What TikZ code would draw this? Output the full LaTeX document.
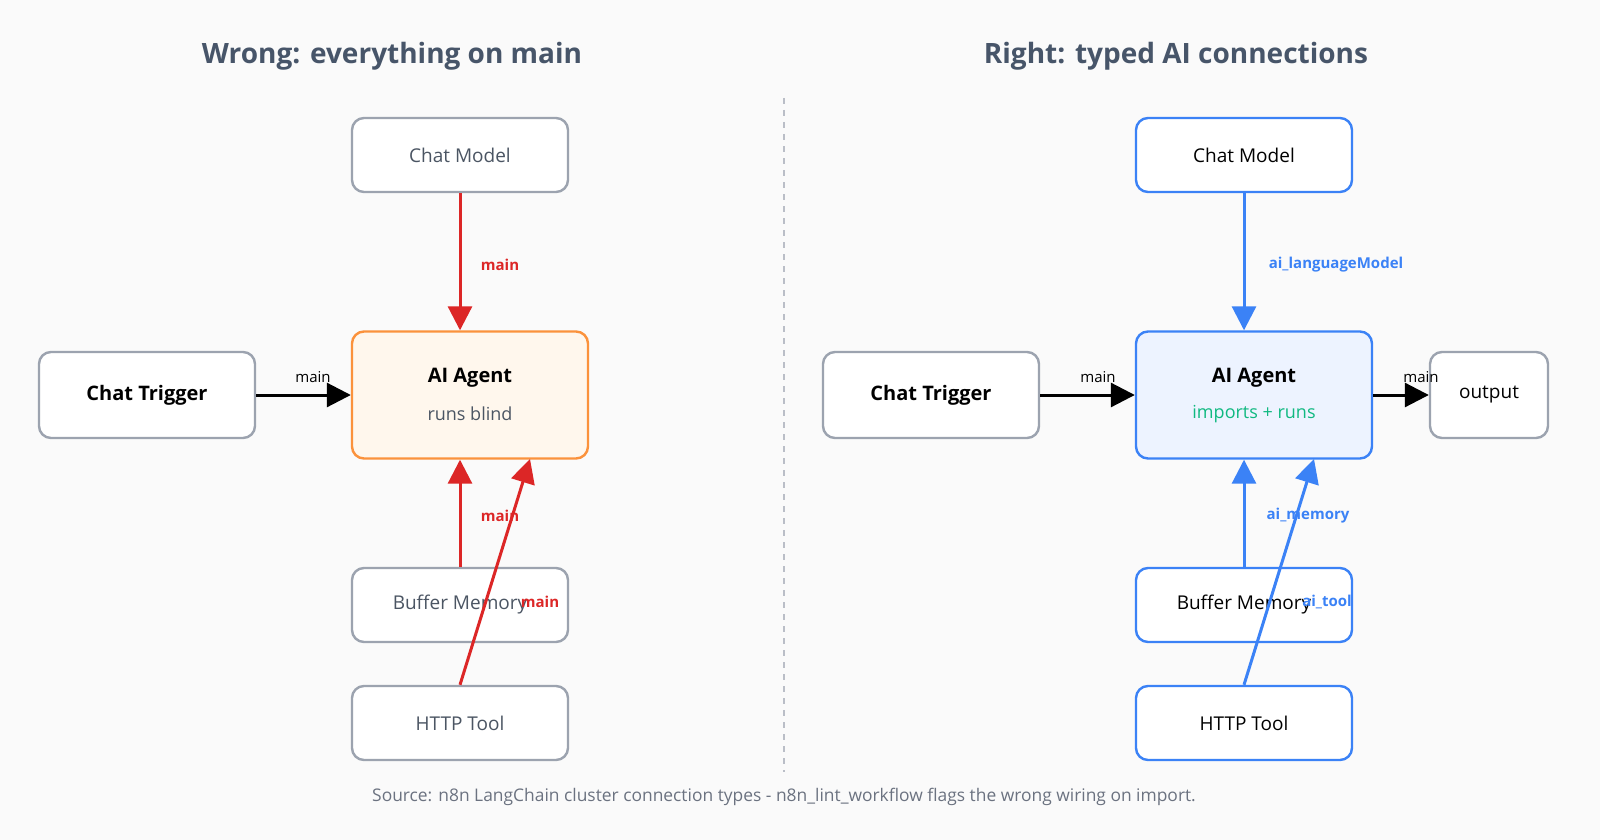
\documentclass[tikz,border=0pt]{standalone}
\usepackage{fontspec}
\setmainfont{Open Sans}
\usetikzlibrary{arrows.meta}
\definecolor{bg}{HTML}{FAFAFA}
\definecolor{gb}{HTML}{9CA3AF}
\definecolor{rd}{HTML}{DC2626}
\definecolor{og}{HTML}{FB923C}
\definecolor{ogf}{HTML}{FFF7ED}
\definecolor{bl}{HTML}{3B82F6}
\definecolor{blf}{HTML}{EDF3FF}
\definecolor{gr}{HTML}{10B981}
\definecolor{tt}{HTML}{475569}
\definecolor{gt}{HTML}{4B5563}
\definecolor{ft}{HTML}{6B7280}
\begin{document}
\begin{tikzpicture}[x=0.5pt,y=-0.5pt,
 box/.style={draw=gb,line width=1.2pt,rounded corners=6pt,fill=white,minimum width=108pt,minimum height=37pt,inner sep=0pt,font=\fontsize{9.5}{12}\selectfont,text=gt},
 bbox/.style={box,draw=bl,text=black},
 bold/.style={font=\fontsize{10}{12}\selectfont\bfseries,text=black},
 arr/.style={line width=1.5pt,-{Triangle[length=12pt,width=12pt]}},
 lab/.style={font=\fontsize{7.5}{9}\selectfont,inner sep=0pt},
 blab/.style={lab,font=\fontsize{7.5}{9}\selectfont\bfseries},
 title/.style={font=\fontsize{14}{17}\selectfont\bfseries,text=tt}]
\fill[bg] (0,0) rectangle (1600,840);
\useasboundingbox (0,0) rectangle (1600,840);
\node[title] (t1) at (392,56) {Wrong: everything on main};
\node[title] (t2) at (1176,56) {Right: typed AI connections};
\draw[gb!70,dashed,line width=0.6pt] (784,98) -- (784,772);
\node[font=\fontsize{8.7}{11}\selectfont,text=ft] (src) at (784,797) {Source: n8n LangChain cluster connection types - n8n\_lint\_workflow flags the wrong wiring on import.};
% left
\node[box] (cm1) at (460,155) {Chat Model};
\node[box,draw=og,fill=ogf,minimum width=118pt,minimum height=63.5pt] (ag1) at (470,395) {};
\node[bold] (ag1t) at (470,378) {AI Agent};
\node[font=\fontsize{9}{11}\selectfont,text=gt] (ag1s) at (470,414) {runs blind};
\node[box,bold,minimum height=43pt] (ct1) at (147,395) {Chat Trigger};
\node[box] (bm1) at (460,605) {Buffer Memory};
\node[box] (ht1) at (460,723) {HTTP Tool};
\coordinate (h1) at (530,459);
\draw[arr,rd] (cm1.south) -- (ag1.north -| cm1);
\draw[arr,rd] (bm1.north) -- (ag1.south -| bm1);
\draw[arr,black] (ct1.east) -- (ag1.west);
\draw[arr,rd] (ht1.north) -- (h1);
\node[blab,text=rd] (l1) at (500,265) {main};
\node[blab,text=rd] (l2) at (500,516) {main};
\node[blab,text=rd] (l3) at (540,602) {main};
\node[lab] (l4) at (313,377) {main};
% right
\node[bbox] (cm2) at (1244,155) {Chat Model};
\node[box,draw=bl,fill=blf,minimum width=118pt,minimum height=63.5pt] (ag2) at (1254,395) {};
\node[bold] (ag2t) at (1254,378) {AI Agent};
\node[font=\fontsize{9}{11}\selectfont,text=gr] (ag2s) at (1254,414) {imports + runs};
\node[box,bold,minimum height=43pt] (ct2) at (931,395) {Chat Trigger};
\node[box,text=black,minimum width=59pt,minimum height=43pt] (out) at (1489,395) {output};
\node[bbox] (bm2) at (1244,605) {Buffer Memory};
\node[bbox] (ht2) at (1244,723) {HTTP Tool};
\coordinate (h2) at (1314,459);
\draw[arr,bl] (cm2.south) -- (ag2.north -| cm2);
\draw[arr,bl] (bm2.north) -- (ag2.south -| bm2);
\draw[arr,black] (ct2.east) -- (ag2.west);
\draw[arr,black] (ag2.east) -- (out.west);
\draw[arr,bl] (ht2.north) -- (h2);
\node[blab,text=bl] (r1) at (1336,265) {ai\_languageModel};
\node[blab,text=bl] (r2) at (1308,516) {ai\_memory};
\node[blab,text=bl] (r3) at (1327,602) {ai\_tool};
\node[lab] (r4) at (1098,377) {main};
\node[lab] (r5) at (1421,377) {main};
\end{tikzpicture}
\end{document}
